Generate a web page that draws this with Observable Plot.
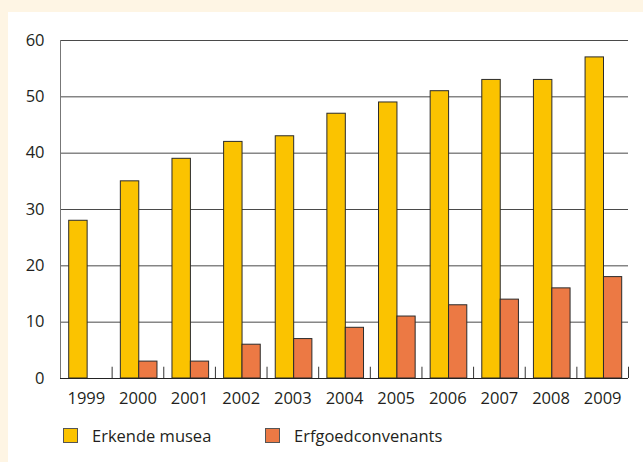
<!DOCTYPE html>
<html>
<head>
<meta charset="utf-8">
<script src="https://cdn.jsdelivr.net/npm/d3@7"></script>
<script src="https://cdn.jsdelivr.net/npm/@observablehq/plot@0.6"></script>
<style>
  html, body { margin: 0; padding: 0; background: #fef5e4; }
  #panel { position: absolute; left: 8px; top: 12px; width: 635px; height: 450px; background: #fff; font-family: "Open Sans", sans-serif; color: #231f20; }
  #legend { display: flex; align-items: center; height: 24px; margin-top: 11px; padding-left: 55px; font-size: 16.5px; }
  .item { display: flex; align-items: center; }
  .item:first-child { width: 202px; }
  .sw { width: 13px; height: 13px; border: 1px solid #555; margin-right: 14px; box-sizing: content-box; }
</style>
</head>
<body>
<div id="panel">
  <div id="chart"></div>
  <div id="legend"></div>
</div>
<script>
const years = [1999, 2000, 2001, 2002, 2003, 2004, 2005, 2006, 2007, 2008, 2009];
const erkendeMusea = [28, 35, 39, 42, 43, 47, 49, 51, 53, 53, 57];
const erfgoedconvenants = [null, 3, 3, 6, 7, 9, 11, 13, 14, 16, 18];
const seriesNames = ["Erkende musea", "Erfgoedconvenants"];
const seriesColors = ["#fbc300", "#ec7944"];
const yTicks = [0, 10, 20, 30, 40, 50, 60];

const rowsA = years.map((year, i) => ({year, value: erkendeMusea[i]}));
const rowsB = years.map((year, i) => ({year, value: erfgoedconvenants[i]})).filter(d => d.value != null);
const boundaries = years.slice(1).concat([years[years.length - 1] + 1]);

const chart = Plot.plot({
  width: 635,
  height: 400,
  marginLeft: 52,
  marginRight: 15,
  marginTop: 28,
  marginBottom: 34,
  x: {domain: [years[0], years[years.length - 1] + 1], axis: null},
  y: {domain: [0, 60], axis: null},
  style: {fontFamily: "'Open Sans', sans-serif", fontSize: "16.5px", color: "#231f20", background: "white"},
  marks: [
    Plot.ruleY(yTicks.filter(d => d > 0), {stroke: "#4a4a4a", strokeWidth: 1}),
    Plot.ruleX([years[0]], {y1: 0, y2: 60, stroke: "#777"}),
    Plot.rectY(rowsA, {x1: "year", x2: d => d.year + 1, y: "value", fill: seriesColors[0], stroke: "#2b2b2b", strokeWidth: 1, insetLeft: 8.7, insetRight: 24.5}),
    Plot.rectY(rowsB, {x1: "year", x2: d => d.year + 1, y: "value", fill: seriesColors[1], stroke: "#2b2b2b", strokeWidth: 1, insetLeft: 27.1, insetRight: 6.3}),
    Plot.ruleX(boundaries, {y1: 0, y2: 2, stroke: "#333"}),
    Plot.ruleY([0], {stroke: "#222"}),
    Plot.axisX(years.map(y => y + 0.5), {label: null, tickSize: 0, tickPadding: 14, tickFormat: d => String(d - 0.5), fontSize: 16.5}),
    Plot.axisY(yTicks, {label: null, tickSize: 0, tickPadding: 16, fontSize: 16.5})
  ]
});
document.getElementById("chart").appendChild(chart);

const legend = document.getElementById("legend");
seriesNames.forEach((name, i) => {
  const item = document.createElement("div");
  item.className = "item";
  const sw = document.createElement("span");
  sw.className = "sw";
  sw.style.background = seriesColors[i];
  const label = document.createElement("span");
  label.textContent = name;
  item.appendChild(sw);
  item.appendChild(label);
  legend.appendChild(item);
});
</script>
</body>
</html>
